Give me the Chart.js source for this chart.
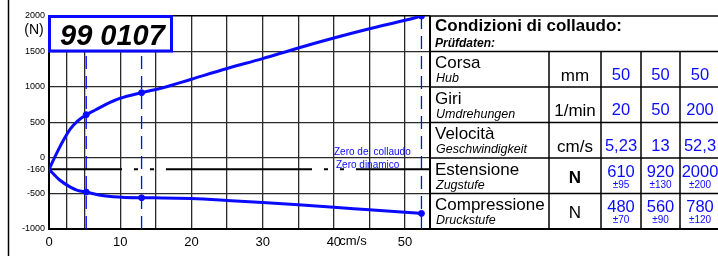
<!DOCTYPE html>
<html><head><meta charset="utf-8">
<script src="https://cdn.jsdelivr.net/npm/chart.js@4/dist/chart.umd.min.js"></script>
<style>html,body{margin:0;padding:0;background:#fff;overflow:hidden}canvas{display:block}</style>
</head><body>
<canvas id="c" width="718" height="256"></canvas>
<script>
// ---------- data ----------
const titleText = '99 0107';
const xTickValues = [0, 2.5, 5, 10, 15, 20, 25, 30, 35, 40, 45, 50];
const yTickValues = [-1000, -500, -160, 0, 500, 1000, 1500, 2000];
const zeroForce = -160;
const xUnit = 'cm/s';
const yUnit = '(N)';
const zeroLabels = ['Zero del collaudo', 'Zero dinamico'];

// extension (upper) curve
const extSpeed = [0, 1, 2, 3, 4, 5.23, 6.5, 8, 10, 13, 16, 20, 25, 30, 35, 40, 45, 50, 52.3];
const extForce = [-160, 50, 245, 410, 520, 610, 676, 756, 841, 920, 990, 1110, 1260, 1400, 1550, 1690, 1820, 1940, 2000];
// compression (lower) curve
const compSpeed = [0, 1.5, 3, 4, 5.23, 7, 9, 13, 16, 20, 25, 30, 35, 40, 45, 50, 52.3];
const compForce = [-160, -310, -410, -455, -480, -520, -545, -560, -562, -572, -598, -628, -660, -694, -730, -765, -780];

// test table
const tableTitle = 'Condizioni di collaudo:';
const tableSubtitle = 'Prüfdaten:';
const rowLabels = ['Corsa', 'Giri', 'Velocità', 'Estensione', 'Compressione'];
const rowSubLabels = ['Hub', 'Umdrehungen', 'Geschwindigkeit', 'Zugstufe', 'Druckstufe'];
const rowUnits = ['mm', '1/min', 'cm/s', 'N', 'N'];
const strokes = [50, 50, 50];
const rpms = [20, 50, 200];
const testSpeeds = [5.23, 13, 52.3];
const extTest = [610, 920, 2000];
const extTol = [95, 130, 200];
const compTest = [480, 560, 780];
const compTol = [70, 90, 120];

// ---------- chart ----------
const BLUE = '#0a0aff';
Chart.defaults.font.family = "'Liberation Sans', Arial, Helvetica, sans-serif";
Chart.defaults.color = '#000';

const pts = (xs, ys) => xs.map((x, i) => ({x, y: ys[i]}));
const fmt = v => String(v).replace('.', ',');

const datasets = [];
testSpeeds.forEach(s => datasets.push({
  data: [{x: s, y: -1000}, {x: s, y: 2000}],
  borderColor: BLUE, borderWidth: 1.3, borderDash: [13, 7], pointRadius: 0, order: 5
}));
datasets.push({
  data: [{x: 0, y: zeroForce}, {x: 53.5, y: zeroForce}],
  borderColor: '#000', borderWidth: 2, borderDash: [146, 12, 4, 12, 4, 12], borderDashOffset: 73,
  pointRadius: 0, order: 4
});
datasets.push({
  data: pts(extSpeed, extForce), borderColor: BLUE, borderWidth: 3, pointRadius: 0,
  cubicInterpolationMode: 'monotone', order: 2
});
datasets.push({
  data: pts(compSpeed, compForce), borderColor: BLUE, borderWidth: 3, pointRadius: 0,
  cubicInterpolationMode: 'monotone', order: 2
});
datasets.push({
  data: pts(testSpeeds, extTest), showLine: false, pointRadius: 3,
  pointBackgroundColor: BLUE, pointBorderColor: BLUE, order: 1
});
datasets.push({
  data: pts(testSpeeds, compTest.map(v => -v)), showLine: false, pointRadius: 3,
  pointBackgroundColor: BLUE, pointBorderColor: BLUE, order: 1
});

const decor = {
  id: 'decor',
  afterDraw(chart) {
    const ctx = chart.ctx, ca = chart.chartArea, ys = chart.scales.y;
    ctx.save();
    // left frame line
    ctx.strokeStyle = '#000'; ctx.lineWidth = 1.5;
    ctx.beginPath(); ctx.moveTo(8.5, 0); ctx.lineTo(8.5, 256); ctx.stroke();
    // unit labels
    ctx.fillStyle = '#000';
    ctx.textAlign = 'center'; ctx.textBaseline = 'middle';
    ctx.font = "14px 'Liberation Sans', Arial";
    ctx.fillText(yUnit, 34, 30);
    ctx.font = "13px 'Liberation Sans', Arial";
    ctx.fillText(xUnit, 353, 241);
    // title box
    const bTop = ca.top, bBot = ys.getPixelForValue(1500);
    ctx.fillStyle = '#fff';
    ctx.fillRect(ca.left, bTop, 123, bBot - bTop);
    ctx.strokeStyle = BLUE; ctx.lineWidth = 3;
    ctx.strokeRect(ca.left + 0.5, bTop + 0.5, 122, bBot - bTop - 1);
    ctx.fillStyle = '#000';
    ctx.textAlign = 'left'; ctx.textBaseline = 'alphabetic';
    ctx.font = "italic bold 29px 'Liberation Sans', Arial";
    ctx.fillText(titleText, 60, 45);
    // zero labels
    ctx.fillStyle = BLUE;
    ctx.font = "10px 'Liberation Sans', Arial";
    ctx.fillText(zeroLabels[0], 334, 155);
    ctx.fillText(zeroLabels[1], 336, 168);

    // ---------- table ----------
    const rows = [2000, 1500, 1000, 500, 0, -500, -1000].map(v => ys.getPixelForValue(v));
    const cols = [ca.right, 549, 601, 641, 680, 720];
    ctx.strokeStyle = '#000';
    const hl = (y, w, x0) => { ctx.lineWidth = w; ctx.beginPath(); ctx.moveTo(x0, y); ctx.lineTo(718, y); ctx.stroke(); };
    hl(rows[0], 1.5, ca.right - 1);
    for (let i = 1; i < 6; i++) hl(rows[i], 1.5, ca.right);
    hl(rows[6], 2, ca.right - 1);
    ctx.lineWidth = 2;
    ctx.beginPath(); ctx.moveTo(ca.right, rows[0]); ctx.lineTo(ca.right, rows[6]); ctx.stroke();
    ctx.lineWidth = 1.5;
    for (let c = 1; c < 5; c++) {
      ctx.beginPath(); ctx.moveTo(cols[c], rows[1]); ctx.lineTo(cols[c], rows[6]); ctx.stroke();
    }
    ctx.fillStyle = '#000';
    ctx.textAlign = 'left';
    ctx.font = "bold 17px 'Liberation Sans', Arial";
    ctx.fillText(tableTitle, 435, rows[0] + 15);
    ctx.font = "italic bold 12px 'Liberation Sans', Arial";
    ctx.fillText(tableSubtitle, 435, rows[0] + 31);

    const valueRows = [strokes, rpms, testSpeeds.map(fmt)];
    for (let r = 0; r < 5; r++) {
      const T = rows[r + 1];
      ctx.fillStyle = '#000'; ctx.textAlign = 'left';
      ctx.font = "17px 'Liberation Sans', Arial";
      ctx.fillText(rowLabels[r], 435, T + 16.5);
      ctx.font = "italic 12.5px 'Liberation Sans', Arial";
      ctx.fillText(rowSubLabels[r], 436, T + 30.5);
      ctx.textAlign = 'center';
      const uc = (cols[1] + cols[2]) / 2;
      if (r < 3) {
        ctx.font = "17px 'Liberation Sans', Arial";
        ctx.fillText(rowUnits[r], uc, T + 29);
        ctx.fillStyle = BLUE;
        ctx.font = "16.5px 'Liberation Sans', Arial";
        valueRows[r].forEach((v, i) => ctx.fillText(String(v), (cols[2 + i] + cols[3 + i]) / 2, T + 28));
      } else {
        ctx.font = (r === 3 ? 'bold ' : '') + "17px 'Liberation Sans', Arial";
        ctx.fillText(rowUnits[r], uc, T + 24.5);
        const vals = r === 3 ? extTest : compTest;
        const tols = r === 3 ? extTol : compTol;
        ctx.fillStyle = BLUE;
        vals.forEach((v, i) => {
          const cx = (cols[2 + i] + cols[3 + i]) / 2;
          ctx.font = "16.5px 'Liberation Sans', Arial";
          ctx.fillText(String(v), cx, T + 18.5);
          ctx.font = "10px 'Liberation Sans', Arial";
          ctx.fillText('±' + tols[i], cx, T + 29.5);
        });
      }
    }
    ctx.restore();
  }
};

new Chart(document.getElementById('c'), {
  type: 'line',
  data: {datasets},
  options: {
    responsive: false, devicePixelRatio: 1, animation: false, events: [],
    layout: {padding: {left: 0, right: 288, top: 16, bottom: 0}},
    plugins: {legend: {display: false}, tooltip: {enabled: false}},
    scales: {
      x: {
        type: 'linear', min: 0, max: 53.5,
        afterFit: s => { s.height = 27; },
        afterBuildTicks: s => { s.ticks = xTickValues.map(v => ({value: v})); },
        grid: {color: '#2a2a2a', lineWidth: 1.3, drawTicks: false},
        border: {display: true, color: '#000', width: 2},
        ticks: {font: {size: 13}, padding: 6, maxRotation: 0, autoSkip: false,
          callback: v => (v % 10 === 0 ? String(v) : '')}
      },
      y: {
        type: 'linear', min: -1000, max: 2000,
        afterFit: s => { s.width = 49; },
        afterBuildTicks: s => { s.ticks = yTickValues.map(v => ({value: v})); },
        grid: {drawTicks: false,
          color: c => (c.tick && c.tick.value === zeroForce ? 'rgba(0,0,0,0)' : (c.tick && c.tick.value === 2000 ? '#000' : '#2a2a2a')),
          lineWidth: c => (c.tick && c.tick.value === 2000 ? 1.5 : 1.3)},
        border: {display: true, color: '#000', width: 2},
        ticks: {font: {size: 9}, padding: 4, autoSkip: false, callback: v => String(v)}
      }
    }
  },
  plugins: [decor]
});
</script>
</body></html>
